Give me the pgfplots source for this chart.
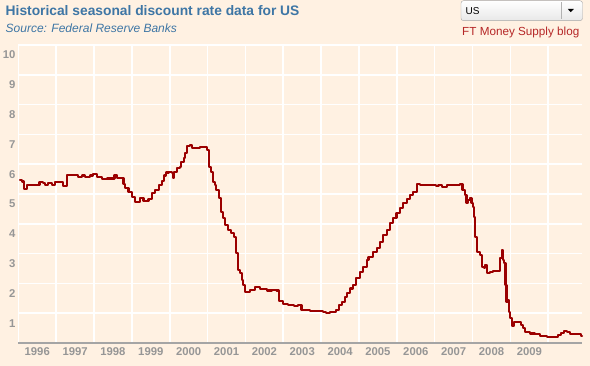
\documentclass[border=0pt]{standalone}
\usepackage{pgfplots}
\pgfplotsset{compat=1.18}
\usepackage{fontspec}
\setmainfont{Liberation Sans}
\definecolor{bg}{RGB}{255,241,226}
\definecolor{titleblue}{RGB}{62,118,165}
\definecolor{blogred}{RGB}{181,38,38}
\definecolor{linered}{RGB}{155,0,0}
\definecolor{tickgray}{RGB}{150,150,150}
\definecolor{axisgray}{RGB}{165,165,165}
\pgfplotstableread{
x y
1996.045 5.47
1996.106 5.42
1996.160 5.16
1996.222 5.30
1996.560 5.41
1996.650 5.36
1996.707 5.30
1996.794 5.36
1996.884 5.30
1996.971 5.39
1997.191 5.27
1997.297 5.64
1997.588 5.58
1997.678 5.62
1997.765 5.56
1997.900 5.62
1997.985 5.66
1998.075 5.56
1998.207 5.49
1998.339 5.52
1998.540 5.64
1998.604 5.53
1998.780 5.35
1998.824 5.19
1998.911 5.08
1999.001 4.91
1999.088 4.74
1999.220 4.86
1999.308 4.78
1999.440 4.82
1999.530 5.02
1999.617 5.13
1999.705 5.30
1999.790 5.45
1999.850 5.62
1999.900 5.72
1999.969 5.75
2000.059 5.69
2000.086 5.53
2000.120 5.75
2000.192 5.86
2000.260 5.92
2000.297 6.08
2000.366 6.20
2000.411 6.37
2000.456 6.61
2000.544 6.64
2000.600 6.53
2000.808 6.59
2000.990 6.48
2001.040 5.92
2001.090 5.75
2001.140 5.41
2001.185 5.30
2001.230 5.13
2001.300 4.86
2001.360 4.41
2001.410 4.18
2001.450 3.96
2001.530 3.79
2001.620 3.68
2001.700 3.57
2001.740 3.01
2001.800 2.45
2001.850 2.34
2001.900 2.11
2001.940 1.95
2002.000 1.72
2002.131 1.78
2002.264 1.87
2002.396 1.80
2002.573 1.76
2002.706 1.78
2002.820 1.76
2002.880 1.40
2002.990 1.31
2003.120 1.27
2003.280 1.24
2003.400 1.27
2003.480 1.12
2003.700 1.06
2004.050 1.05
2004.130 1.02
2004.230 1.05
2004.400 1.11
2004.470 1.28
2004.540 1.39
2004.620 1.55
2004.680 1.67
2004.760 1.83
2004.840 1.95
2004.930 2.17
2005.020 2.39
2005.110 2.56
2005.200 2.79
2005.250 2.90
2005.380 3.06
2005.470 3.18
2005.550 3.40
2005.640 3.62
2005.730 3.79
2005.820 4.02
2005.900 4.18
2005.990 4.35
2006.080 4.52
2006.170 4.69
2006.260 4.82
2006.350 4.97
2006.430 5.08
2006.520 5.34
2006.600 5.30
2007.030 5.27
2007.100 5.30
2007.190 5.24
2007.320 5.30
2007.670 5.34
2007.733 5.13
2007.790 4.97
2007.840 4.69
2007.880 4.80
2007.930 4.86
2007.970 4.69
2008.000 4.57
2008.040 4.24
2008.075 3.57
2008.110 3.06
2008.200 2.95
2008.250 2.56
2008.290 2.51
2008.330 2.62
2008.380 2.34
2008.460 2.39
2008.540 2.43
2008.730 2.84
2008.775 3.12
2008.805 2.79
2008.840 2.67
2008.870 1.95
2008.895 1.39
2008.925 1.44
2008.955 1.05
2008.995 0.83
2009.040 0.58
2009.090 0.71
2009.210 0.71
2009.280 0.60
2009.340 0.49
2009.395 0.36
2009.520 0.32
2009.650 0.29
2009.790 0.23
2009.960 0.21
2010.250 0.27
2010.330 0.35
2010.420 0.40
2010.500 0.36
2010.570 0.30
2010.800 0.29
2010.860 0.23
2010.890 0.23
}\ratedata
\begin{document}
\begin{tikzpicture}[x=1pt,y=1pt]
\path[use as bounding box] (0,0) rectangle (590,366);
\fill[bg] (0,0) rectangle (590,366);
\begin{axis}[
  at={(18.3pt,23pt)}, anchor=south west,
  scale only axis, width=563.7pt, height=298pt,
  xmin=1996, xmax=2010.89, ymin=0, ymax=10,
  axis line style={draw=none},
  tick style={draw=none},
  major tick length=0pt, minor tick length=0pt,
  xtick={1996.5,1997.5,1998.5,1999.5,2000.5,2001.5,2002.5,2003.5,2004.5,2005.5,2006.5,2007.5,2008.5,2009.5},
  xticklabels={1996,1997,1998,1999,2000,2001,2002,2003,2004,2005,2006,2007,2008,2009},
  minor xtick={1996,1997,...,2010},
  ytick={1,2,...,10},
  xmajorgrids=false, xminorgrids=true, ymajorgrids=true,
  major grid style={white, line width=1.6pt},
  minor grid style={white, line width=1.6pt},
  /pgf/number format/assume math mode=true,
  ticklabel style={font=\bfseries\fontsize{11.3}{13}\selectfont, text=tickgray},
  xticklabel style={anchor=center, inner sep=0pt, yshift=-9pt},
  yticklabel style={anchor=east, inner sep=0pt, xshift=-2.6pt, yshift=-10pt},
  clip=false,
]
\addplot[const plot, linered, line width=2.1pt, line join=round, line cap=round] table[x=x,y=y] {\ratedata};
\draw[axisgray, line width=1.5pt] (rel axis cs:0,0) -- (rel axis cs:1,0);
\end{axis}
\node[anchor=base west, inner sep=0pt, font=\bfseries\fontsize{13.8}{16}\selectfont, text=titleblue] at (5.5,350.3) {Historical seasonal discount rate data for US};
\node[anchor=base west, inner sep=0pt, font=\itshape\fontsize{12}{14}\selectfont, text=titleblue] at (5.5,333) {Source: Federal Reserve Banks};
\node[anchor=base east, inner sep=0pt, font=\fontsize{11.7}{14}\selectfont, text=blogred] at (579.5,330) {FT Money Supply blog};
\draw[rounded corners=2.5pt, draw=gray!70, top color=white, bottom color=gray!18] (461,345.3) rectangle (582.5,365.3);
\draw[gray!60] (561,347) -- (561,363.5);
\fill[black] (567.8,357) -- (573.8,357) -- (570.8,353.8) -- cycle;
\node[anchor=base west, inner sep=0pt, font=\fontsize{10}{12}\selectfont] at (465.5,351.5) {US};
\end{tikzpicture}
\end{document}
